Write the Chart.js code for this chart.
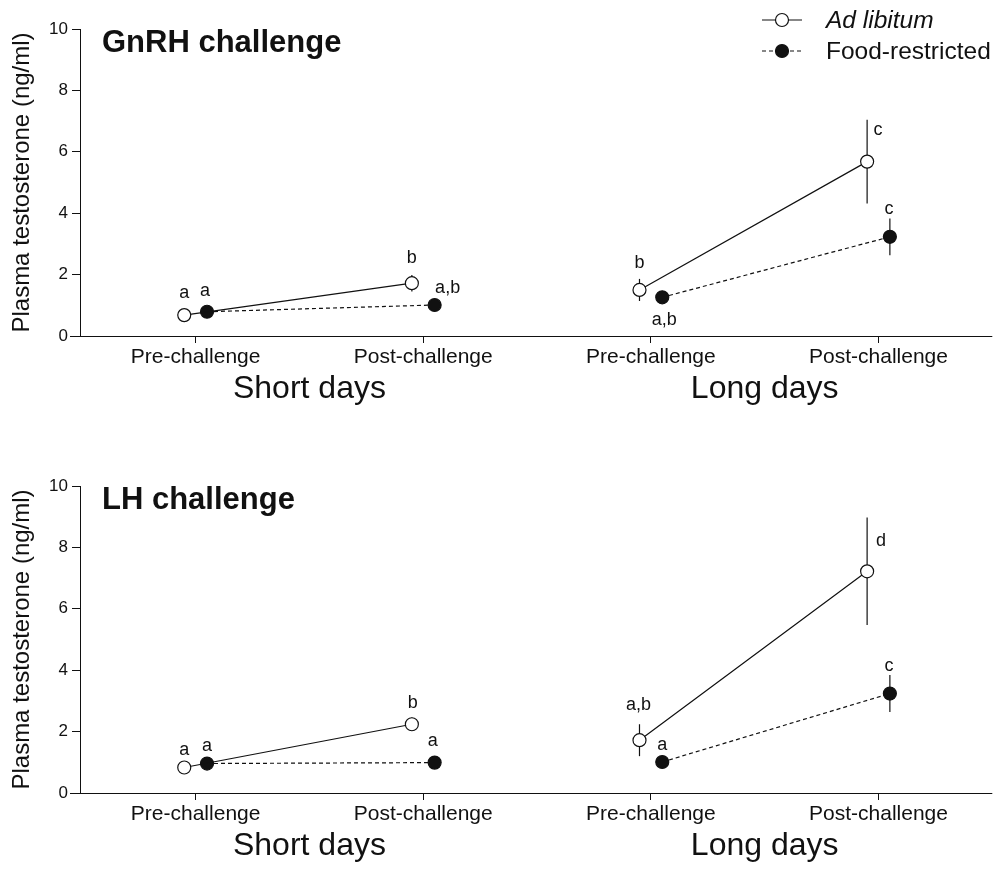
<!DOCTYPE html>
<html lang="en">
<head>
    <meta charset="UTF-8">
    <title>Plasma testosterone</title>
    <style>
        html, body { margin: 0; padding: 0; background: #fff; }
        .panel { position: absolute; left: 0; width: 995px; height: 435px; }
        #top { top: 0; }
        #bottom { top: 435px; }
    </style>
</head>
<body>
    <div class="panel" id="top"><canvas id="gnrhChart" width="995" height="435"></canvas></div>
    <div class="panel" id="bottom"><canvas id="lhChart" width="995" height="435"></canvas></div>

    <script src="https://cdn.jsdelivr.net/npm/chart.js"></script>
    <script>
        // categories / groups
        const categories = ['Pre-challenge', 'Post-challenge', 'Pre-challenge', 'Post-challenge'];
        const groups = ['Short days', 'Long days'];
        const yTicks = [0, 2, 4, 6, 8, 10];

        // GnRH challenge (means, SEM, letters)
        const gnrhAdLib = [0.68, 1.72, 1.50, 5.68];
        const gnrhAdLibErr = [0.05, 0.27, 0.36, 1.36];
        const gnrhAdLibLetters = ['a', 'b', 'b', 'c'];
        const gnrhFood = [0.79, 1.01, 1.26, 3.23];
        const gnrhFoodErr = [0.05, 0.08, 0.15, 0.60];
        const gnrhFoodLetters = ['a', 'a,b', 'a,b', 'c'];

        // LH challenge
        const lhAdLib = [0.83, 2.24, 1.72, 7.22];
        const lhAdLibErr = [0.08, 0.22, 0.52, 1.75];
        const lhAdLibLetters = ['a', 'b', 'a,b', 'd'];
        const lhFood = [0.96, 0.99, 1.01, 3.24];
        const lhFoodErr = [0.05, 0.18, 0.08, 0.60];
        const lhFoodLetters = ['a', 'a', 'a', 'c'];

        const ink = '#111';
        const fontFamily = '"Liberation Sans", Arial, sans-serif';
        const shift = 0.05; // side-by-side offset of the two groups

        // letter placement (px from the point: dx, baseline dy)
        const gnrhLetterPos = [
            [[0, -17], [0, -20], [0, -22], [11, -27]],
            [[-2, -16], [13, -12], [2, 28], [-1, -23]]
        ];
        const lhLetterPos = [
            [[0, -13], [1, -16], [-1, -30], [14, -25]],
            [[0, -13], [-2, -17], [0, -12], [-1, -23]]
        ];

        // insert a gap so short days and long days are not joined
        function seriesPoints(values, dx) {
            const pts = values.map((v, i) => ({ x: i + dx, y: v }));
            pts.splice(2, 0, { x: 1.5, y: null });
            return pts;
        }

        const errorBars = {
            id: 'errorBars',
            beforeDatasetsDraw(chart) {
                const { ctx, scales: { x, y } } = chart;
                ctx.save();
                ctx.strokeStyle = ink;
                ctx.lineWidth = 1.2;
                chart.data.datasets.forEach(ds => {
                    ds.means.forEach((m, i) => {
                        const px = x.getPixelForValue(i + ds.shift);
                        ctx.beginPath();
                        ctx.moveTo(px, y.getPixelForValue(m - ds.errs[i]));
                        ctx.lineTo(px, y.getPixelForValue(m + ds.errs[i]));
                        ctx.stroke();
                    });
                });
                ctx.restore();
            }
        };

        const decorations = {
            id: 'decorations',
            afterDraw(chart, args, opts) {
                const { ctx, chartArea, scales: { x, y } } = chart;
                ctx.save();
                ctx.fillStyle = ink;
                ctx.strokeStyle = ink;

                // x axis line runs a little past both ends
                ctx.lineWidth = 1;
                ctx.beginPath();
                ctx.moveTo(chartArea.left - 10, chartArea.bottom + 0.5);
                ctx.lineTo(chartArea.left, chartArea.bottom + 0.5);
                ctx.moveTo(chartArea.right, chartArea.bottom + 0.5);
                ctx.lineTo(chartArea.right + 5, chartArea.bottom + 0.5);
                ctx.stroke();

                // panel title
                ctx.font = 'bold 31px ' + fontFamily;
                ctx.textAlign = 'left';
                ctx.textBaseline = 'alphabetic';
                ctx.fillText(opts.title, 102, chartArea.top + 23);

                // group labels
                ctx.font = '32px ' + fontFamily;
                ctx.textAlign = 'center';
                groups.forEach((g, gi) => {
                    const cx = (x.getPixelForValue(gi * 2) + x.getPixelForValue(gi * 2 + 1)) / 2;
                    ctx.fillText(g, cx, chartArea.bottom + 62);
                });

                // significance letters
                ctx.font = '18px ' + fontFamily;
                chart.data.datasets.forEach((ds, di) => {
                    ds.letters.forEach((t, i) => {
                        const [dx, dy] = opts.letterPos[di][i];
                        const px = x.getPixelForValue(i + ds.shift);
                        const py = y.getPixelForValue(ds.means[i]);
                        ctx.fillText(t, px + dx, py + dy);
                    });
                });

                // key
                if (opts.key) {
                    const rows = [
                        { label: 'Ad libitum', italic: true, dash: [], fill: '#fff', y: 20 },
                        { label: 'Food-restricted', italic: false, dash: [4, 3], fill: ink, y: 51 }
                    ];
                    rows.forEach(r => {
                        ctx.setLineDash(r.dash);
                        ctx.lineWidth = 1.2;
                        ctx.beginPath();
                        ctx.moveTo(762, r.y);
                        ctx.lineTo(802, r.y);
                        ctx.stroke();
                        ctx.setLineDash([]);
                        ctx.beginPath();
                        ctx.arc(782, r.y, 6.5, 0, Math.PI * 2);
                        ctx.fillStyle = r.fill;
                        ctx.fill();
                        ctx.stroke();
                        ctx.fillStyle = ink;
                        ctx.font = (r.italic ? 'italic ' : '') + '24.5px ' + fontFamily;
                        ctx.textAlign = 'left';
                        ctx.textBaseline = 'middle';
                        ctx.fillText(r.label, 826, r.y + 1);
                    });
                }
                ctx.restore();
            }
        };

        function buildChart(canvasId, p) {
            return new Chart(document.getElementById(canvasId), {
                type: 'line',
                data: {
                    datasets: [{
                        label: 'Ad libitum',
                        data: seriesPoints(p.adLib, -shift),
                        means: p.adLib, errs: p.adLibErr, letters: p.adLibLetters, shift: -shift,
                        borderColor: ink,
                        borderWidth: 1.2,
                        pointRadius: 6.5,
                        pointBackgroundColor: '#fff',
                        pointBorderColor: ink,
                        pointBorderWidth: 1.2,
                        tension: 0,
                        spanGaps: false
                    }, {
                        label: 'Food-restricted',
                        data: seriesPoints(p.food, shift),
                        means: p.food, errs: p.foodErr, letters: p.foodLetters, shift: shift,
                        borderColor: ink,
                        borderWidth: 1.2,
                        borderDash: [4, 3],
                        pointRadius: 6.5,
                        pointBackgroundColor: ink,
                        pointBorderColor: ink,
                        pointBorderWidth: 1.2,
                        tension: 0,
                        spanGaps: false
                    }]
                },
                options: {
                    responsive: false,
                    animation: false,
                    layout: { padding: { top: p.top, right: 1, left: 0, bottom: 0 } },
                    scales: {
                        x: {
                            type: 'linear',
                            min: -0.508,
                            max: 3.478,
                            afterBuildTicks: axis => { axis.ticks = categories.map((c, i) => ({ value: i })); },
                            afterFit: axis => { axis.height = p.xHeight; },
                            ticks: {
                                autoSkip: false,
                                maxRotation: 0,
                                padding: 2,
                                color: ink,
                                font: { family: fontFamily, size: 21 },
                                callback: v => categories[v]
                            },
                            grid: { drawOnChartArea: false, color: ink, tickLength: 7, lineWidth: 1 },
                            border: { color: ink, width: 1 }
                        },
                        y: {
                            min: 0,
                            max: 10,
                            afterBuildTicks: axis => { axis.ticks = yTicks.map(v => ({ value: v })); },
                            afterFit: axis => { axis.width = 80; },
                            ticks: {
                                padding: 4,
                                color: ink,
                                font: { family: fontFamily, size: 17 }
                            },
                            grid: { drawOnChartArea: false, color: ink, tickLength: 8, lineWidth: 1 },
                            border: { color: ink, width: 1 },
                            title: {
                                display: true,
                                text: 'Plasma testosterone (ng/ml)',
                                color: ink,
                                font: { family: fontFamily, size: 24 },
                                padding: { top: 8, bottom: 0 }
                            }
                        }
                    },
                    plugins: {
                        legend: { display: false },
                        tooltip: { enabled: false },
                        decorations: { title: p.title, key: p.key, letterPos: p.letterPos }
                    }
                },
                plugins: [errorBars, decorations]
            });
        }

        buildChart('gnrhChart', {
            title: 'GnRH challenge', key: true, top: 29, xHeight: 99,
            adLib: gnrhAdLib, adLibErr: gnrhAdLibErr, adLibLetters: gnrhAdLibLetters,
            food: gnrhFood, foodErr: gnrhFoodErr, foodLetters: gnrhFoodLetters,
            letterPos: gnrhLetterPos
        });

        buildChart('lhChart', {
            title: 'LH challenge', key: false, top: 51, xHeight: 77,
            adLib: lhAdLib, adLibErr: lhAdLibErr, adLibLetters: lhAdLibLetters,
            food: lhFood, foodErr: lhFoodErr, foodLetters: lhFoodLetters,
            letterPos: lhLetterPos
        });
    </script>
</body>
</html>
